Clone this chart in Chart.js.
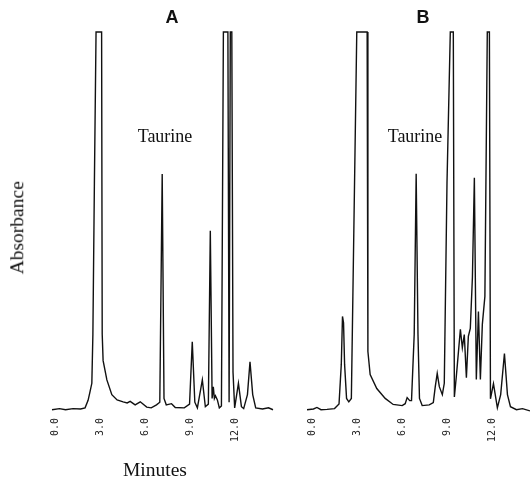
<!DOCTYPE html>
<html>
<head>
<meta charset="utf-8">
<script src="https://cdn.jsdelivr.net/npm/chart.js@4"></script>
<style>
html, body { margin: 0; padding: 0; background: #fff; }
#wrap { position: relative; width: 530px; height: 481px; overflow: hidden; }
canvas { position: absolute; left: 0; top: 0; }
.lbl { position: absolute; line-height: 1; white-space: nowrap; color: #111; text-align: center; }
.serif { font-family: "Liberation Serif", "Times New Roman", serif; }
.panel { font-family: "Liberation Sans", Arial, sans-serif; font-weight: bold; font-size: 18px; }
</style>
</head>
<body>
<div id="wrap">
  <canvas id="chartA" width="530" height="481"></canvas>
  <canvas id="chartB" width="530" height="481"></canvas>
  <div class="lbl panel" style="left:122px; top:8px; width:100px;">A</div>
  <div class="lbl panel" style="left:373px; top:8px; width:100px;">B</div>
  <div class="lbl serif" style="left:115px; top:127px; width:100px; font-size:18px;">Taurine</div>
  <div class="lbl serif" style="left:365px; top:127px; width:100px; font-size:18px;">Taurine</div>
  <div class="lbl serif" style="left:105px; top:460px; width:100px; font-size:19.5px;">Minutes</div>
  <div class="lbl serif" style="left:-83.5px; top:218px; width:200px; height:19.5px; font-size:19.5px; transform:rotate(-90deg);">Absorbance</div>
</div>
<script>
// retention time ticks (minutes)
const tickMinutes = [0, 3, 6, 9, 12];

// panel A trace: time (min) and absorbance (arbitrary, 100 = recorder full scale)
const timeA = [-0.2, 0.3, 0.7, 1.2, 1.7, 2.0, 2.2, 2.33, 2.45, 2.52, 2.62, 2.73, 3.1, 3.14, 3.2, 3.45, 3.78, 4.13, 4.53, 4.8,
  5.0, 5.33, 5.67, 6.1, 6.4, 6.75, 6.97, 7.13, 7.25, 7.4, 7.75, 8.0, 8.6, 8.95, 9.13, 9.3, 9.47, 9.8, 10.0, 10.2,
  10.33, 10.45, 10.53, 10.6, 10.67, 10.8, 10.93, 11.07, 11.2, 11.5, 11.58, 11.66, 11.76, 11.84, 11.95, 12.2, 12.4, 12.55, 12.8, 12.97,
  13.15, 13.35, 13.8, 14.2, 14.5];
const absA = [0, 0.3, 0, 0.3, 0.2, 0.5, 2.5, 4.8, 7, 20, 60, 100, 100, 20, 13, 7.9, 4, 2.6, 2.1, 1.8,
  2.2, 1.3, 2.1, 0.7, 0.5, 1.3, 2, 62.4, 3, 1.3, 1.6, 0.6, 0.5, 1.5, 18, 2, 0.5, 7.9, 0.8, 1.5,
  47.4, 3, 6.1, 3, 3.7, 2.6, 0.5, 1, 100, 100, 2, 100, 100, 10, 0.5, 7, 0.8, 0.3, 4, 12.7,
  4, 0.5, 0.2, 0.5, 0];

// panel B trace
const timeB = [-0.33, 0.1, 0.33, 0.6, 1.0, 1.5, 1.8, 1.95, 2.03, 2.1, 2.17, 2.3, 2.45, 2.62, 2.72, 2.98, 3.67, 3.72, 3.87, 4.31,
  4.87, 5.4, 6.0, 6.2, 6.33, 6.5, 6.62, 6.8, 6.93, 7.05, 7.15, 7.33, 7.8, 8.07, 8.2, 8.33, 8.47, 8.67, 8.8, 8.98,
  9.2, 9.4, 9.47, 9.6, 9.67, 9.87, 10.0, 10.13, 10.27, 10.4, 10.53, 10.67, 10.8, 10.93, 11.07, 11.2, 11.33, 11.5, 11.66, 11.8,
  11.87, 12.07, 12.33, 12.55, 12.8, 13.0, 13.2, 13.6, 14.0, 14.5];
const absB = [0, 0.2, 0.6, 0, 0.1, 0.3, 1.5, 12, 24.7, 23, 12, 3, 2.1, 3, 30, 100, 100, 15.4, 9.3, 5.6,
  3, 1.4, 1.1, 1.6, 3.2, 2.4, 2.4, 20, 62.5, 20, 3, 1.1, 1.3, 1.9, 6.1, 9.6, 6.1, 4, 7, 60,
  100, 100, 3.4, 8.8, 12, 21.3, 16.4, 19.9, 8.5, 19.4, 21.5, 35, 61.4, 8, 26, 8, 22.6, 30, 100, 100,
  2.9, 6.9, 0.5, 4, 14.9, 4, 0.8, 0, 0.3, -0.3];

function makeTrace(id, times, values, xMin, padLeft, padRight) {
  return new Chart(document.getElementById(id), {
    type: 'line',
    data: {
      datasets: [{
        data: times.map((t, i) => ({ x: t, y: values[i] })),
        borderColor: '#111',
        borderWidth: 1.4,
        pointRadius: 0,
        tension: 0,
        fill: false,
        clip: 4
      }]
    },
    options: {
      responsive: false,
      animation: false,
      devicePixelRatio: 1,
      layout: { padding: { left: padLeft, right: padRight, top: 32, bottom: 9 } },
      plugins: { legend: { display: false }, tooltip: { enabled: false } },
      scales: {
        x: {
          type: 'linear',
          min: xMin,
          max: 14.5,
          grid: { display: false, drawTicks: false },
          border: { display: false },
          afterBuildTicks: s => { s.ticks = tickMinutes.map(v => ({ value: v })); },
          afterFit: s => { s.height = 60; },
          ticks: {
            minRotation: 90,
            maxRotation: 90,
            padding: 6,
            autoSkip: false,
            color: '#222',
            font: { family: 'DejaVu Sans Mono', size: 10 },
            callback: v => Number(v).toFixed(1)
          }
        },
        y: { display: false, min: -0.6, max: 100 }
      }
    }
  });
}

makeTrace('chartA', timeA, absA, -0.2, 52, 257);
makeTrace('chartB', timeB, absB, -0.33, 307, 0);
</script>
</body>
</html>
